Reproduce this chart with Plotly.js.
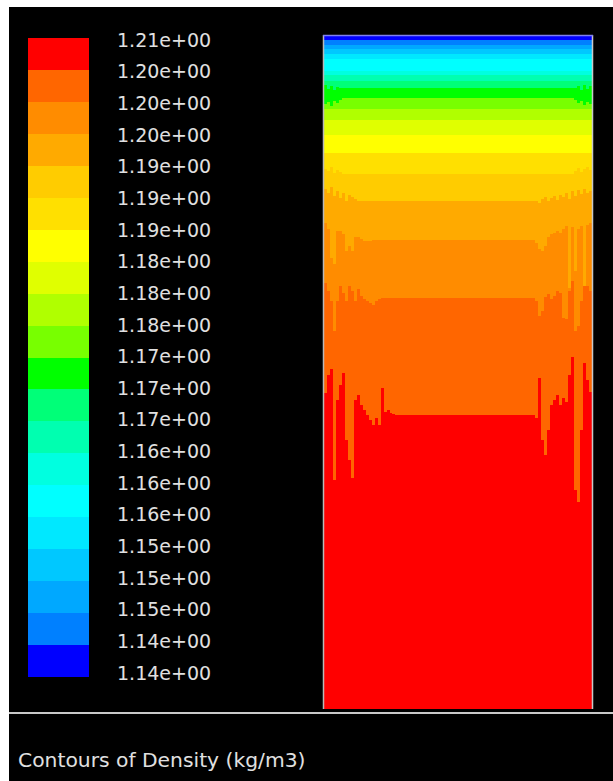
<!DOCTYPE html>
<html>
<head>
<meta charset="utf-8">
<script src="https://cdn.plot.ly/plotly-3.0.1.min.js"></script>
<style>html,body{margin:0;padding:0;background:#000;}#chart{width:613px;height:781px;}</style>
</head>
<body>
<div id="chart"></div>
<script>
// ---- Data ----
// Contour levels (kg/m3), ascending, 21 levels -> 20 bands
const levels = [1.1392,1.1425,1.1458,1.1491,1.1524,1.1557,1.1590,1.1623,1.1656,1.1689,1.1722,
                1.1755,1.1788,1.1821,1.1854,1.1887,1.1920,1.1953,1.1986,1.2019,1.2052];
const tickLabels = ["1.14e+00","1.14e+00","1.15e+00","1.15e+00","1.15e+00","1.16e+00","1.16e+00",
                    "1.16e+00","1.17e+00","1.17e+00","1.17e+00","1.18e+00","1.18e+00","1.18e+00",
                    "1.19e+00","1.19e+00","1.19e+00","1.20e+00","1.20e+00","1.20e+00","1.21e+00"];
const bandColors = ['#0000ff','#0080ff','#00a8ff','#00c8ff','#00e8ff','#00ffff','#00ffe0','#00ffb0',
                    '#00ff78','#00ff00','#78ff00','#b0ff00','#e0ff00','#ffff00','#ffe000','#ffcc00',
                    '#ffaa00','#ff8c00','#ff6600','#ff0000'];
const titleText = "Contours of Density (kg/m3)";

// Domain size (mm): width, depth; column width
const domainWidth = 270, domainDepth = 674, colWidth = 3;
// Depth below the top (mm) of the lower edge of bands 0..18 in the middle of the domain
const centerDepth = [4,9,13,18,23,35,39,45,52,62,73,84,99,117,138,165,204,262,380];
// Depth of band edges in the columns next to the left / right walls (index = band edge)
const leftB8  = [49,53,50,54,51,52];
const rightB8 = [52,50,54,49,53,50];
const leftB9  = [68,66,70,65,67,64];
const rightB9 = [64,67,65,69,66,68];
const leftB14  = [133,135,131,137,134,136];
const rightB14 = [135,132,136,133,131,134];
const leftB15  = [153,157,151,160,155,162,157,165,159,161,163];
const rightB15 = [165,167,163,161,165,162,160,164,159,161,157,163,155,160,154,158,153,157,155];
const leftB16  = [187,193,222,228,195,195,198,215,210,215,201,201,203,205,205,205];
const rightB16 = [207,213,215,210,201,198,197,195,197,193,190,252,191,235,193,190,250,189,187];
const leftB17  = [247,255,265,295,265,250,257,265,250,255,265,253,260,263,265,267,269,265,263];
const rightB17 = [265,280,275,261,258,263,260,255,257,282,283,255,245,295,290,265,240,250,255];
const leftB18  = [358,340,333,445,365,350,337,405,425,443,365,360,370,375,380,385,390,383,390,353,377,375,378,379];
const rightB18 = [383,343,405,420,395,370,365,360,370,363,367,340,321,455,467,395,327,345,357];

// ---- Build the field ----
const wallLeft  = {8:leftB8, 9:leftB9, 14:leftB14, 15:leftB15, 16:leftB16, 17:leftB17, 18:leftB18};
const wallRight = {8:rightB8, 9:rightB9, 14:rightB14, 15:rightB15, 16:rightB16, 17:rightB17, 18:rightB18};
const nCols = domainWidth / colWidth;
const edges = []; // edges[c][k]
for (let c = 0; c < nCols; c++) {
  const col = [];
  let prev = 0;
  for (let k = 0; k < centerDepth.length; k++) {
    let d = centerDepth[k];
    const L = wallLeft[k], R = wallRight[k];
    if (L && c < L.length) d = L[c];
    if (R && c >= nCols - R.length) d = R[c - (nCols - R.length)];
    d = Math.max(d, prev);
    col.push(d); prev = d;
  }
  edges.push(col);
}
const bandMid = [];
for (let k = 0; k < bandColors.length; k++) bandMid.push((levels[k] + levels[k+1]) / 2);
const z = [];
for (let r = 0; r < domainDepth; r++) {
  const depth = r + 0.5;
  const row = [];
  for (let c = 0; c < nCols; c++) {
    let b = 0;
    const e = edges[c];
    while (b < e.length && depth > e[b]) b++;
    row.push(bandMid[b]);
  }
  z.push(row);
}

const nb = bandColors.length;
const colorscale = [];
for (let k = 0; k < nb; k++) {
  colorscale.push([k / nb, bandColors[k]]);
  colorscale.push([(k + 1) / nb, bandColors[k]]);
}

const W = 613, H = 781;
const px = v => v / W;
const py = v => 1 - v / H;
const labelFont = {family: 'DejaVu Sans', size: 19, color: '#e0e0e0'};
const zmin = levels[0], zmax = levels[levels.length - 1];

const traces = [
  {
    type: 'heatmap', z: z, x0: colWidth / 2, dx: colWidth, y0: 0.5, dy: 1,
    colorscale: colorscale, zmin: zmin, zmax: zmax,
    zsmooth: false, showscale: false, hoverinfo: 'skip', xaxis: 'x', yaxis: 'y'
  },
  {
    type: 'heatmap', z: bandMid.map(v => [v]), x: [0, 1], y: levels,
    colorscale: colorscale, zmin: zmin, zmax: zmax,
    zsmooth: false, showscale: false, hoverinfo: 'skip', xaxis: 'x2', yaxis: 'y2'
  },
  { type: 'scatter', x: [], y: [], xaxis: 'x2', yaxis: 'y3', hoverinfo: 'skip', showlegend: false }
];

const hidden = {showgrid: false, zeroline: false, showticklabels: false, ticks: '', showline: false, fixedrange: true};
const layout = {
  width: W, height: H,
  margin: {l: 0, r: 0, t: 0, b: 0, pad: 0},
  paper_bgcolor: '#000000', plot_bgcolor: 'rgba(0,0,0,0)',
  showlegend: false,
  xaxis: Object.assign({}, hidden, {domain: [px(324), px(592)], range: [0, domainWidth]}),
  yaxis: Object.assign({}, hidden, {domain: [py(709), py(36)], range: [domainDepth, 0]}),
  xaxis2: Object.assign({}, hidden, {domain: [px(28), px(89)], range: [0, 1], anchor: 'y2'}),
  yaxis2: Object.assign({}, hidden, {domain: [py(677), py(38)], range: [zmin, zmax], anchor: 'x2'}),
  yaxis3: {
    domain: [py(673), py(40)], range: [zmin, zmax], anchor: 'x2',
    side: 'right', showgrid: false, zeroline: false, showline: false, ticks: '',
    tickmode: 'array', tickvals: levels, ticktext: tickLabels, tickfont: labelFont,
    ticklabelstandoff: 27, fixedrange: true
  },
  shapes: [
    {type: 'rect', xref: 'paper', yref: 'paper', x0: 0, x1: px(9), y0: 0, y1: 1, fillcolor: '#ffffff', line: {width: 0}},
    {type: 'rect', xref: 'paper', yref: 'paper', x0: 0, x1: 1, y0: py(7), y1: 1, fillcolor: '#ffffff', line: {width: 0}},
    {type: 'line', xref: 'paper', yref: 'paper', x0: px(9), x1: 1, y0: py(713), y1: py(713), line: {color: '#c8c8c8', width: 2}},
    {type: 'line', xref: 'paper', yref: 'paper', x0: px(323.5), x1: px(323.5), y0: py(709), y1: py(35), line: {color: '#b8b8b8', width: 1.5}},
    {type: 'line', xref: 'paper', yref: 'paper', x0: px(592.5), x1: px(592.5), y0: py(709), y1: py(35), line: {color: '#c8c8c8', width: 1.5}},
    {type: 'line', xref: 'paper', yref: 'paper', x0: px(323), x1: px(593), y0: py(35.5), y1: py(35.5), line: {color: '#8080f0', width: 1.5}}
  ],
  annotations: [
    {text: titleText, xref: 'paper', yref: 'paper', x: px(16), y: py(760), xanchor: 'left', yanchor: 'middle',
     showarrow: false, font: {family: 'DejaVu Sans', size: 20.3, color: '#e0e0e0'}}
  ]
};

Plotly.newPlot('chart', traces, layout, {staticPlot: true, displayModeBar: false});
</script>
</body>
</html>
